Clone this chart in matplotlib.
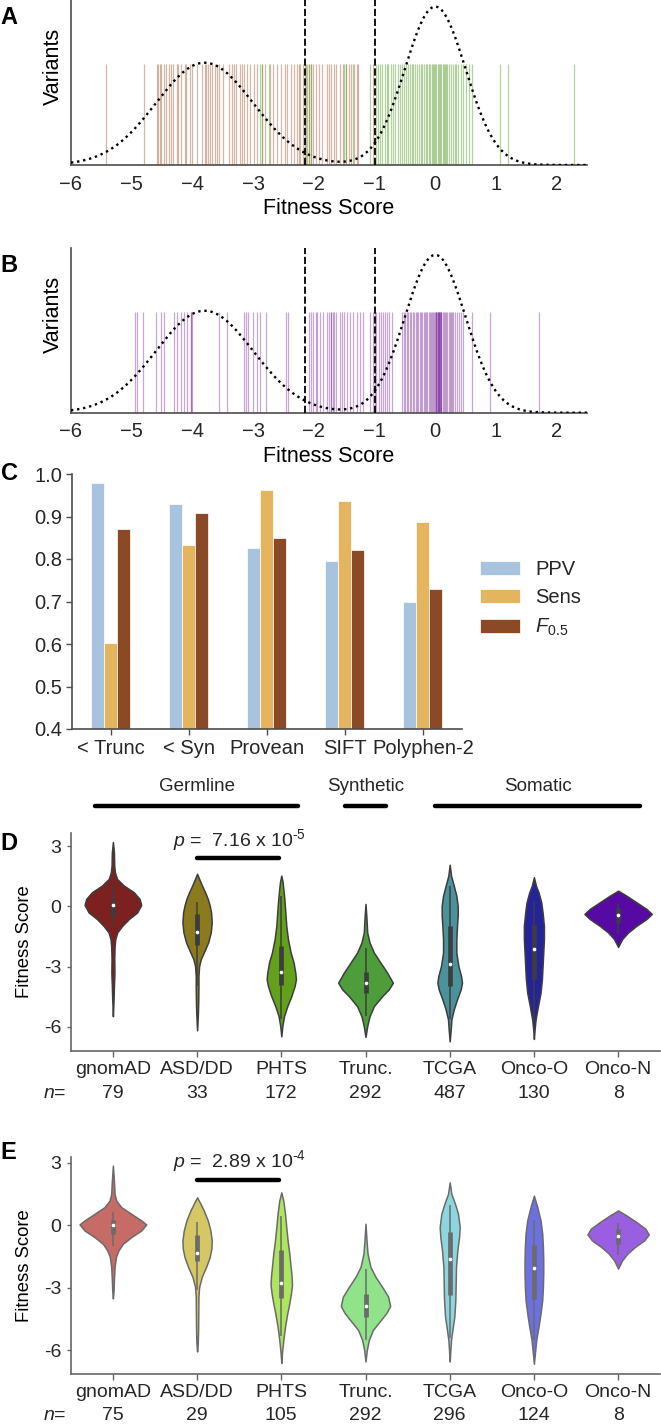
import numpy as np
import matplotlib
matplotlib.use('Agg')
import matplotlib.pyplot as plt
import matplotlib.transforms as mtransforms

plt.rcParams['font.family'] = ['Liberation Sans', 'DejaVu Sans']
plt.rcParams['mathtext.fontset'] = 'custom'
plt.rcParams['mathtext.rm'] = 'Liberation Sans'
plt.rcParams['mathtext.it'] = 'Liberation Sans:italic'
plt.rcParams['text.color'] = '#262626'
plt.rcParams['xtick.color'] = '#262626'
plt.rcParams['ytick.color'] = '#262626'

# ---------------- panel A / B : rug of variant fitness scores ----------------
trunc_scores = [-5.43, -4.80, -4.58, -4.56, -4.53, -4.51, -4.47, -4.44, -4.38, -4.35,
                -4.32, -4.26, -4.23, -4.18, -4.13, -4.10, -4.04, -4.00, -3.92, -3.85,
                -3.80, -3.78, -3.74, -3.71, -3.67, -3.63, -3.60, -3.57, -3.50, -3.40,
                -3.35, -3.31, -3.28, -3.22, -3.18, -3.15, -3.10, -3.05, -2.98, -2.93,
                -2.86, -2.81, -2.73, -2.67, -2.60, -2.54, -2.47, -2.44, -2.37, -2.32,
                -2.28, -2.25, -2.22, -2.18, -2.15, -2.13, -2.08, -2.04, -2.01, -1.97,
                -1.92, -1.87, -1.78, -1.75, -1.71, -1.66, -1.63, -1.57, -1.52, -1.47,
                -1.42, -1.38, -1.33, -1.29, -1.27, -1.02]
syn_scores = [-2.89, -2.86, -2.74, -2.11, -2.08, -2.05, -1.50, -1.47, -1.35, -1.07,
              -0.98, -0.95, -0.91, -0.87, -0.83, -0.80, -0.77, -0.73, -0.70, -0.66,
              -0.62, -0.58, -0.55, -0.51, -0.48, -0.45, -0.42, -0.39, -0.36, -0.33,
              -0.30, -0.27, -0.24, -0.21, -0.18, -0.16, -0.13, -0.11, -0.08, -0.06,
              -0.04, -0.02, 0.00, 0.02, 0.04, 0.06, 0.08, 0.10, 0.12, 0.14,
              0.16, 0.18, 0.20, 0.23, 0.26, 0.29, 0.32, 0.35, 0.38, 0.42,
              0.46, 0.50, 0.55, 0.60, 1.07, 1.20, 2.28]
pten_scores = [-4.94, -4.92, -4.82, -4.60, -4.51, -4.47, -4.30, -4.26, -4.19, -4.14,
               -4.09, -4.02, -4.02, -4.00, -3.57, -3.43, -3.15, -3.12, -3.08, -3.01,
               -2.93, -2.88, -2.79, -2.46, -2.43, -2.08, -2.04, -2.01, -1.97, -1.94,
               -1.90, -1.85, -1.78, -1.75, -1.72, -1.72, -1.69, -1.66, -1.63, -1.57,
               -1.54, -1.50, -1.45, -1.40, -1.35, -1.29, -1.24, -1.19, -1.07, -1.03,
               -1.00, -0.97, -0.93, -0.90, -0.86, -0.83, -0.79, -0.76, -0.72, -0.55,
               -0.52, -0.50, -0.47, -0.45, -0.42, -0.40, -0.37, -0.35, -0.32, -0.30,
               -0.28, -0.25, -0.23, -0.21, -0.19, -0.17, -0.15, -0.13, -0.11, -0.09,
               -0.07, -0.05, -0.03, -0.02, 0.00, 0.01, 0.02, 0.02, 0.03, 0.04,
               0.04, 0.05, 0.06, 0.06, 0.07, 0.08, 0.08, 0.09, 0.10, 0.10,
               0.12, 0.14, 0.16, 0.18, 0.20, 0.22, 0.24, 0.26, 0.28, 0.30,
               0.33, 0.36, 0.39, 0.42, 0.45, 0.60, 0.91, 1.71]

# two-component gaussian mixture fit (means, sds, peak heights) and thresholds
mix_means = [-3.8, 0.0]
mix_sds = [0.8, 0.5]
mix_peaks = [0.62, 0.96]
thresholds = [-2.15, -1.0]
rug_height = 0.61

# ---------------- panel C : classifier performance ----------------
methods = ['< Trunc', '< Syn', 'Provean', 'SIFT', 'Polyphen-2']
ppv = [0.98, 0.929, 0.826, 0.795, 0.699]
sens = [0.602, 0.834, 0.962, 0.937, 0.886]
f05 = [0.871, 0.908, 0.850, 0.821, 0.730]

# ---------------- panel D / E : violins ----------------
groups = ['gnomAD', 'ASD/DD', 'PHTS', 'Trunc.', 'TCGA', 'Onco-O', 'Onco-N']
group_sets = [('Germline', -0.21, 2.2), ('Synthetic', 2.76, 3.24), ('Somatic', 3.83, 6.26)]

d_n = [79, 33, 172, 292, 487, 130, 8]
d_colors = ['#7d2020', '#8c7a1e', '#63a11b', '#4d9e3a', '#4a929c', '#25239c', '#560aa3']
d_ys = [
    [3.2, 2.7, 2.0, 1.7, 1.37, 1.03, 0.7, 0.37, 0.07, -0.3, -0.63, -0.97, -1.3, -1.63, -2.0, -2.6, -3.3, -4.0, -4.6, -5.47],
    [1.62, 1.37, 1.03, 0.7, 0.37, 0.03, -0.3, -0.8, -1.3, -1.8, -2.3, -2.63, -2.97, -3.47, -3.97, -4.63, -5.3, -6.17],
    [1.53, 1.2, 0.87, 0.37, -0.3, -0.97, -1.63, -2.3, -2.8, -3.3, -3.63, -3.97, -4.47, -4.97, -5.47, -5.97, -6.47],
    [0.12, -0.63, -1.3, -1.8, -2.3, -2.8, -3.3, -3.8, -4.13, -4.47, -4.97, -5.47, -5.97, -6.5],
    [2.07, 1.53, 1.03, 0.53, 0.03, -0.47, -0.97, -1.63, -2.3, -2.97, -3.47, -3.8, -4.13, -4.63, -5.13, -5.63, -6.13, -6.72],
    [1.45, 1.03, 0.7, 0.2, -0.3, -0.97, -1.63, -2.3, -2.97, -3.63, -4.3, -4.97, -5.63, -6.13, -6.6],
    [0.78, 0.53, 0.2, -0.13, -0.38, -0.63, -0.97, -1.3, -1.63, -2.02],
]
d_hw = [
    [0, .012, .016, .024, .048, .131, .249, .317, .336, .289, .19, .111, .051, .028, .02, .016, .018, .012, .008, 0],
    [0, .024, .059, .095, .127, .150, .166, .174, .162, .131, .079, .044, .024, .016, .016, .014, .010, 0],
    [0, .016, .024, .036, .048, .059, .079, .111, .146, .166, .174, .158, .119, .071, .032, .012, 0],
    [0, .012, .020, .048, .099, .178, .257, .325, .277, .198, .099, .048, .020, 0],
    [0, .016, .048, .079, .095, .095, .087, .079, .079, .103, .135, .146, .131, .087, .048, .020, .012, 0],
    [0, .024, .055, .087, .103, .119, .119, .111, .103, .095, .079, .048, .020, .008, 0],
    [0, .099, .218, .337, .400, .337, .218, .119, .048, 0],
]
d_med = [0.07, -1.27, -3.27, -3.83, -2.85, -2.1, -0.45]
d_q1 = [-0.47, -1.93, -3.93, -4.3, -3.97, -3.6, -0.83]
d_q3 = [0.37, -0.38, -1.97, -3.27, -0.97, -0.93, -0.1]
d_wlo = [-0.97, -3.97, -5.6, -5.47, -5.6, -5.7, -1.38]
d_whi = [1.12, 0.2, 0.53, -2.05, 1.0, 0.28, 0.17]

e_n = [75, 29, 105, 292, 296, 124, 8]
e_colors = ['#c66b65', '#d6c765', '#ade55d', '#90e388', '#8cd7df', '#6c70e0', '#9a5fe0']
e_ys = [
    [2.87, 2.15, 1.51, 1.19, 0.88, 0.56, 0.24, 0.05, -0.24, -0.56, -0.88, -1.19, -1.51, -1.99, -2.63, -3.1, -3.5],
    [1.35, 1.04, 0.72, 0.24, -0.24, -0.72, -1.11, -1.51, -1.99, -2.47, -2.95, -3.42, -4.22, -5.02, -5.65, -6.05],
    [1.59, 1.19, 0.56, -0.08, -0.72, -1.35, -1.99, -2.47, -2.87, -3.26, -3.74, -4.22, -4.86, -5.49, -6.13, -6.6],
    [0.08, -0.72, -1.35, -1.99, -2.47, -2.95, -3.42, -3.87, -4.22, -4.62, -5.02, -5.49, -5.97, -6.53],
    [2.07, 1.51, 1.04, 0.56, -0.08, -0.56, -1.19, -1.99, -2.79, -3.58, -4.38, -5.02, -5.49, -5.97, -6.53],
    [1.43, 0.88, 0.24, -0.4, -1.04, -1.67, -2.31, -2.95, -3.58, -4.22, -4.86, -5.49, -6.13, -6.64],
    [0.72, 0.48, 0.16, -0.16, -0.43, -0.72, -1.04, -1.35, -1.67, -2.07],
]
e_hw = [
    [0, .012, .020, .040, .099, .218, .337, .396, .337, .218, .119, .067, .036, .020, .012, .008, 0],
    [0, .040, .079, .127, .158, .174, .170, .150, .107, .055, .024, .016, .014, .012, .008, 0],
    [0, .024, .044, .059, .075, .095, .111, .123, .127, .115, .095, .071, .044, .024, .008, 0],
    [0, .012, .024, .059, .119, .198, .269, .293, .245, .166, .087, .040, .016, 0],
    [0, .020, .063, .099, .119, .111, .091, .075, .071, .067, .055, .032, .016, .008, 0],
    [0, .040, .079, .099, .107, .111, .111, .107, .099, .079, .055, .028, .012, 0],
    [0, .099, .218, .325, .364, .309, .198, .111, .048, 0],
]
e_med = [0.0, -1.3, -2.75, -3.87, -1.62, -2.04, -0.51]
e_q1 = [-0.4, -1.7, -3.5, -4.38, -3.34, -3.55, -0.91]
e_q3 = [0.24, -0.45, -1.19, -3.3, -0.32, -0.92, -0.16]
e_wlo = [-1.0, -3.1, -5.3, -5.49, -5.4, -5.5, -1.43]
e_whi = [0.64, 0.16, 0.43, -2.07, 1.0, 0.24, 0.11]

W, H = 661, 1425
fig = plt.figure(figsize=(W / 100, H / 100), dpi=100)


def px_axes(l, t, r, b):
    # axes placed by pixel edges of the reference
    return fig.add_axes([l / W, 1 - b / H, (r - l) / W, (b - t) / H])


def rug_panel(ax, scores_list, colors):
    xs = np.linspace(-6, 2.5, 600)
    for scores, (col, alpha) in zip(scores_list, colors):
        ax.vlines(scores, 0, rug_height, colors=col, alpha=alpha, lw=0.9, zorder=1)
    curve = np.zeros_like(xs)
    for m, s, p in zip(mix_means, mix_sds, mix_peaks):
        curve += p * np.exp(-0.5 * ((xs - m) / s) ** 2)
    ax.plot(xs, curve, color='black', ls=(0, (1, 1.6)), lw=1.7, zorder=3)
    for t in thresholds:
        ax.axvline(t, color='black', ls=(0, (4, 1.5)), lw=1.3, zorder=4)
    ax.set_xlim(-6, 2.5)
    ax.set_ylim(0, 1)
    ax.set_yticks([])
    ax.set_xticks(range(-6, 3))
    ax.tick_params(axis='x', length=0, pad=7, labelsize=14.5)
    ax.set_xlabel('Fitness Score', fontsize=15.5, labelpad=3)
    ax.set_ylabel('Variants', fontsize=15.5)
    ax.yaxis.set_label_coords(-0.014, 0.6)
    for side in ['top', 'right']:
        ax.spines[side].set_visible(False)
    for side in ['left', 'bottom']:
        ax.spines[side].set_color('#4d4d4d')
        ax.spines[side].set_linewidth(1.2)


ax_a = px_axes(71, 0, 587, 165)
rug_panel(ax_a, [trunc_scores, syn_scores], [('#a0603a', 0.45), ('#5a9a2a', 0.45)])

ax_b = px_axes(71, 248.3, 587, 412.7)
rug_panel(ax_b, [pten_scores], [('#7b2a9a', 0.42)])

# panel C bars
ax_c = px_axes(71.7, 474, 462, 729)
xc = np.arange(len(methods))
bw = 1 / 6
ax_c.bar(xc - bw, ppv, bw, color='#a7c3dd', edgecolor='white', lw=0.5, label='PPV')
ax_c.bar(xc, sens, bw, color='#e5b45f', edgecolor='white', lw=0.5, label='Sens')
ax_c.bar(xc + bw, f05, bw, color='#8a4a25', edgecolor='white', lw=0.5, label=r'$F_{0.5}$')
ax_c.set_xlim(-0.5, 4.5)
ax_c.set_ylim(0.4, 1.0)
ax_c.set_xticks(xc)
ax_c.set_xticklabels(methods)
ax_c.set_yticks(np.arange(0.4, 1.01, 0.1))
ax_c.set_yticklabels(['0.4', '0.5', '0.6', '0.7', '0.8', '0.9', '1.0'])
ax_c.tick_params(labelsize=14.5, length=4, width=1, color='#4d4d4d', pad=3)
for side in ['top', 'right']:
    ax_c.spines[side].set_visible(False)
for side in ['left', 'bottom']:
    ax_c.spines[side].set_color('#4d4d4d')
    ax_c.spines[side].set_linewidth(1.2)
fig.legend(handles=ax_c.get_legend_handles_labels()[0], loc='center left',
           bbox_to_anchor=(480 / W, 1 - 599 / H), frameon=False, fontsize=14.5,
           borderpad=0, borderaxespad=0, handlelength=2.0, handleheight=0.7,
           handletextpad=0.75, labelspacing=0.47)


def violin_panel(ax, ys, hw, colors, med, q1, q3, wlo, whi, ns, edge, ylim, pbar_y, ptext_y, ptext):
    for i in range(len(groups)):
        y = np.array(ys[i])
        w = np.array(hw[i])
        ax.fill_betweenx(y, i - w, i + w, facecolor=colors[i], edgecolor=edge, lw=1.1, zorder=2)
        ax.vlines(i, wlo[i], whi[i], color=edge, lw=1.1, zorder=3)
        ax.vlines(i, q1[i], q3[i], color=edge, lw=3.4, zorder=3)
        ax.scatter([i], [med[i]], s=7, color='white', zorder=4, lw=0)
    ax.set_xlim(-0.5, 6.5)
    ax.set_ylim(*ylim)
    ax.set_yticks([3, 0, -3, -6])
    ax.set_yticklabels(['3', '0', '-3', '-6'])
    ax.set_xticks(range(len(groups)))
    ax.set_xticklabels(groups)
    ax.tick_params(labelsize=14, color='#666666', width=1)
    ax.tick_params(axis='x', length=4, pad=3)
    ax.tick_params(axis='y', length=3, pad=4)
    ax.set_ylabel('Fitness Score', fontsize=13.3)
    ax.yaxis.set_label_coords(-0.064, 0.5)
    for side in ['top', 'right']:
        ax.spines[side].set_visible(False)
    for side in ['left', 'bottom']:
        ax.spines[side].set_color('#666666')
        ax.spines[side].set_linewidth(1.2)
    # sample sizes under the category names
    trans = mtransforms.blended_transform_factory(ax.transData, ax.transAxes)
    for i, n in enumerate(ns):
        ax.text(i, -0.193, str(n), transform=trans, ha='center', va='center', fontsize=14)
    ax.text(-0.69, -0.193, r'$n$=', transform=trans, ha='center', va='center', fontsize=14)
    # significance bar between ASD/DD and PHTS
    ax.plot([1.0, 1.97], [pbar_y, pbar_y], color='black', lw=3.2, solid_capstyle='round',
            clip_on=False)
    ax.text(1.5, ptext_y, ptext, ha='center', va='center', fontsize=14, clip_on=False)


ax_d = px_axes(70.8, 833, 660.2, 1051)
violin_panel(ax_d, d_ys, d_hw, d_colors, d_med, d_q1, d_q3, d_wlo, d_whi, d_n, '#3d3d3d',
             (-7.2, 3.65), 2.4, 3.28, r'$p$ =  7.16 x 10$^{\text{-5}}$')

ax_e = px_axes(70.8, 1156.7, 660.2, 1374)
violin_panel(ax_e, e_ys, e_hw, e_colors, e_med, e_q1, e_q3, e_wlo, e_whi, e_n, '#6b6b6b',
             (-7.13, 3.3), 2.2, 3.1, r'$p$ =  2.89 x 10$^{\text{-4}}$')

# group headers above panel D
for name, x0, x1 in group_sets:
    ax_d.plot([x0, x1], [5.0, 5.0], color='black', lw=3.2, solid_capstyle='round', clip_on=False)
    ax_d.text((x0 + x1) / 2, 5.94, name, ha='center', va='center', fontsize=13.5)

# panel letters
for letter, ypx in [('A', 17.5), ('B', 265), ('C', 473), ('D', 843), ('E', 1152.5)]:
    fig.text(0.001, 1 - ypx / H, letter, fontsize=17, fontweight='bold', color='black',
             ha='left', va='center')

fig.savefig('out.png', dpi=100)
